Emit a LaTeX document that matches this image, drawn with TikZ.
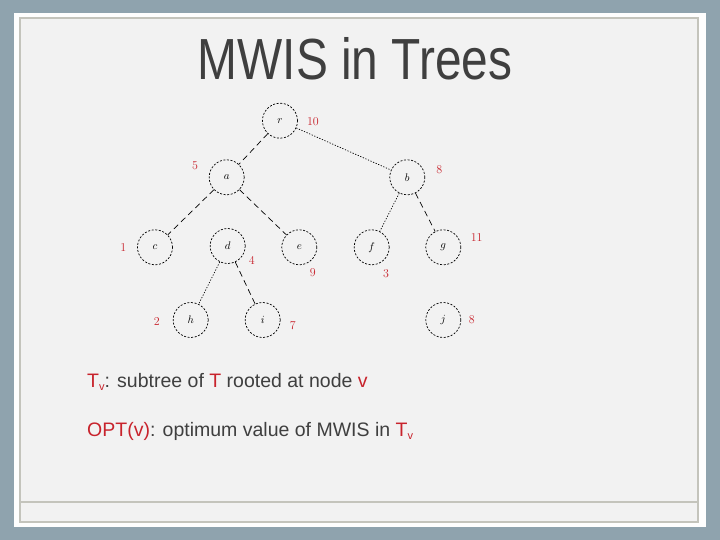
\documentclass[tikz,border=0pt]{standalone}
\usepackage{amsmath,amssymb}
\usepackage{fontspec}
\setmainfont{Liberation Sans}
\usepackage{tikz}
\usetikzlibrary{positioning}

\definecolor{slateback}{HTML}{8FA3AE}
\definecolor{panelgray}{HTML}{F2F2F2}
\definecolor{framegray}{HTML}{C4C4BC}
\definecolor{inkgray}{HTML}{3F3F3F}
\definecolor{wtred}{HTML}{C8232C}

\newcommand{\subv}{\raisebox{-3.5pt}{\fontsize{11}{11}\selectfont v}}

\begin{document}
\begin{tikzpicture}[
  x=1pt, y=-1pt,
  vtx/.style={draw, circle, minimum size=35pt, inner sep=0pt, line width=0.7pt,
    dash pattern=on 2pt off 1.6pt, font=\fontsize{11}{12}\selectfont},
  wt/.style={text=wtred, inner sep=0pt, font=\fontsize{13}{15}\selectfont},
  edash/.style={line width=0.7pt, dash pattern=on 6pt off 4pt},
  edot/.style={line width=0.7pt, dash pattern=on 1.2pt off 1.6pt},
  bodytxt/.style={anchor=base west, inner sep=0pt, text=inkgray,
    font=\fontsize{19.5}{22}\selectfont}
]
\useasboundingbox (0,0) rectangle (720,540);

% ---------- Slide background ----------
\fill[slateback] (0,0) rectangle (720,540);
\fill[white!97!panelgray] (14,13) rectangle (706,527);
\draw[framegray, line width=2pt, fill=panelgray] (19.5,18.5) rectangle (697.5,522);
\draw[framegray, line width=2pt] (19.5,502) -- (697.5,502);

% ---------- Title ----------
\node[anchor=base, inner sep=0pt, text=inkgray] (title) at (355,79.3)
  {\scalebox{0.825}[1]{\fontsize{58}{60}\selectfont MWIS in Trees}};

% ---------- Tree vertices ----------
\node[vtx] (r) at (280,120.7) {$r$};
\node[vtx] (a) at (226.7,177.3) {$a$};
\node[vtx] (b) at (407.3,177.3) {$b$};
\node[vtx] (c) at (155,247.3) {$c$};
\node[vtx] (d) at (227.7,246) {$d$};
\node[vtx] (e) at (299.3,247.3) {$e$};
\node[vtx] (f) at (371.7,247.3) {$f$};
\node[vtx] (g) at (443.3,247.3) {$g$};
\node[vtx] (h) at (190.7,320) {$h$};
\node[vtx] (i) at (262.7,320) {$i$};
\node[vtx] (j) at (443.3,320) {$j$};

% ---------- Weights ----------
\node[wt] (wr) at (313,121.7) {$10$};
\node[wt] (wa) at (195,166) {$5$};
\node[wt] (wb) at (439.3,170) {$8$};
\node[wt] (wc) at (123.3,248) {$1$};
\node[wt] (wd) at (251.7,260.7) {$4$};
\node[wt] (we) at (312.7,272.7) {$9$};
\node[wt] (wf) at (386,274) {$3$};
\node[wt] (wg) at (476.7,237.3) {$11$};
\node[wt] (wh) at (156.7,321.7) {$2$};
\node[wt] (wi) at (292.7,326) {$7$};
\node[wt] (wj) at (471.7,319.3) {$8$};

% ---------- Tree edges ----------
\draw[edash] (r) -- (a);
\draw[edot]  (r) -- (b);
\draw[edash] (a) -- (c);
\draw[edash] (a) -- (e);
\draw[edot]  (b) -- (f);
\draw[edash] (b) -- (g);
\draw[edot]  (d) -- (h);
\draw[edash] (d) -- (i);

% ---------- Definitions ----------
\node[bodytxt] (deftv) at (87,387.3)
  {\textcolor{wtred}{T\subv}: subtree of \textcolor{wtred}{T} rooted at node \textcolor{wtred}{v}};
\node[bodytxt] (defopt) at (87,436)
  {\textcolor{wtred}{OPT(v)}: optimum value of MWIS in \textcolor{wtred}{T\subv}};
\end{tikzpicture}
\end{document}
